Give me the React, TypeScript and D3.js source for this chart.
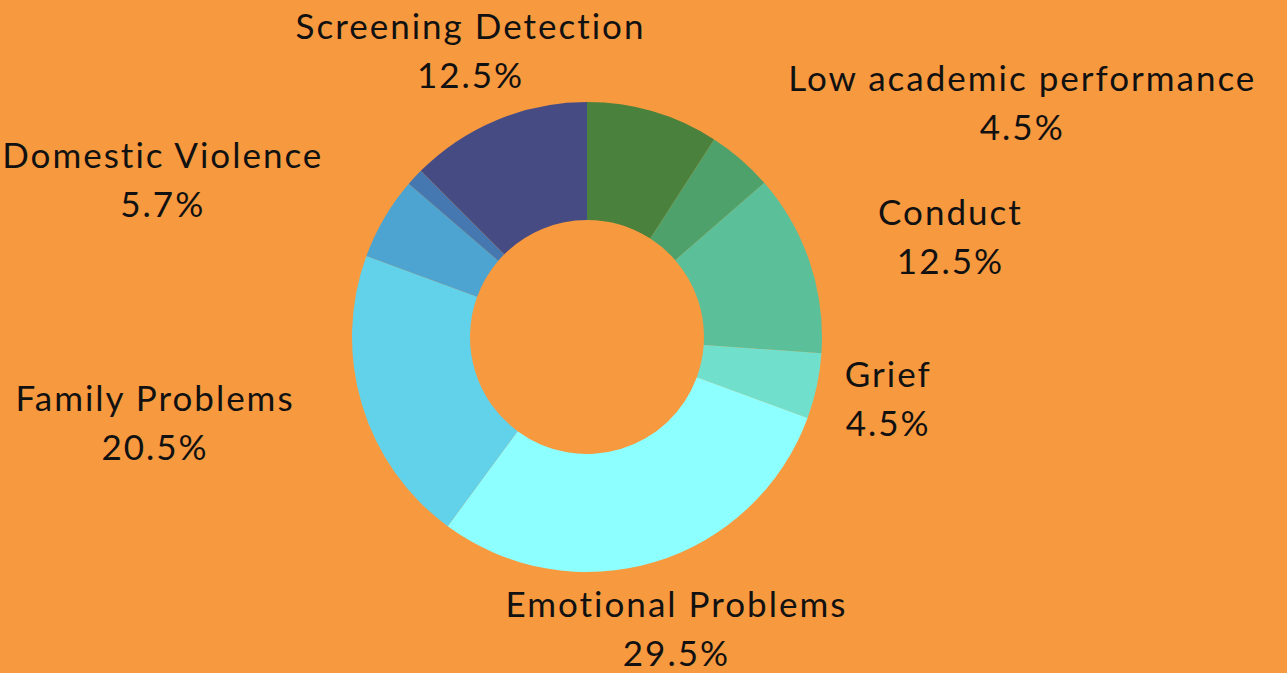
import React, { useMemo } from "react";
import * as d3 from "d3";

const categories = [
  "",
  "Low academic performance",
  "Conduct",
  "Grief",
  "Emotional Problems",
  "Family Problems",
  "Domestic Violence",
  "",
  "Screening Detection",
];
const values = [9.1, 4.5, 12.5, 4.5, 29.5, 20.5, 5.7, 1.2, 12.5];
const colors = [
  "#4A823D",
  "#4EA16A",
  "#5BBF99",
  "#70E0CD",
  "#8EFFFF",
  "#62D2EA",
  "#4EA4D0",
  "#4578B0",
  "#464B84",
];

const W = 1287;
const H = 673;
const BG = "#F7993F";
const FONT = "Lato, sans-serif";
const FS = 35;
const LS = 2;

export default function App() {
  const cx = 587;
  const cy = 337;
  const outerR = 235;
  const innerR = 117;
  const labelR = 307;

  const pieData = useMemo(
    () =>
      d3
        .pie<number>()
        .sort(null)
        .value((d) => d)(values),
    []
  );
  const arc = d3.arc<d3.PieArcDatum<number>>().innerRadius(innerR).outerRadius(outerR);

  const measure = useMemo(() => {
    const c = document.createElement("canvas").getContext("2d")!;
    c.font = `${FS}px ${FONT}`;
    return (s: string) => c.measureText(s).width + LS * (s.length - 1);
  }, []);

  const fmt = (v: number) => d3.format(".1f")(v) + "%";

  const labels = pieData
    .map((d, i) => {
      if (!categories[i]) return null;
      const a = (d.startAngle + d.endAngle) / 2;
      const ax = cx + labelR * Math.sin(a);
      const ay = cy - labelR * Math.cos(a);
      const t1 = categories[i];
      const t2 = fmt(values[i]);
      const w = Math.max(measure(t1), measure(t2));
      const top = ay - 39;
      const bot = ay + 36;
      const overlaps = (bx: number) => {
        const px = Math.max(bx - w / 2, Math.min(cx, bx + w / 2));
        const py = Math.max(top, Math.min(cy, bot));
        return Math.hypot(px - cx, py - cy) < outerR + 10;
      };
      let bx = ax;
      if (overlaps(ax)) {
        bx = Math.sin(a) >= 0 ? ax + w / 2 : ax - w / 2;
      }
      return { i, bx, ay, t1, t2 };
    })
    .filter(Boolean) as { i: number; bx: number; ay: number; t1: string; t2: string }[];

  return (
    <svg
      width={W}
      height={H}
      style={{ position: "absolute", left: 0, top: 0, display: "block" }}
    >
      <rect x={0} y={0} width={W} height={H} fill={BG} />
      <g transform={`translate(${cx},${cy})`}>
        {pieData.map((d, i) => (
          <path key={i} d={arc(d) || ""} fill={colors[i]} />
        ))}
      </g>
      {labels.map((l) => (
        <g
          key={l.i}
          fontFamily={FONT}
          fontSize={FS}
          letterSpacing={LS}
          fill="#111"
          textAnchor="middle"
        >
          <text x={l.bx + LS / 2} y={l.ay - 14}>
            {l.t1}
          </text>
          <text x={l.bx + LS / 2} y={l.ay + 35}>
            {l.t2}
          </text>
        </g>
      ))}
    </svg>
  );
}
